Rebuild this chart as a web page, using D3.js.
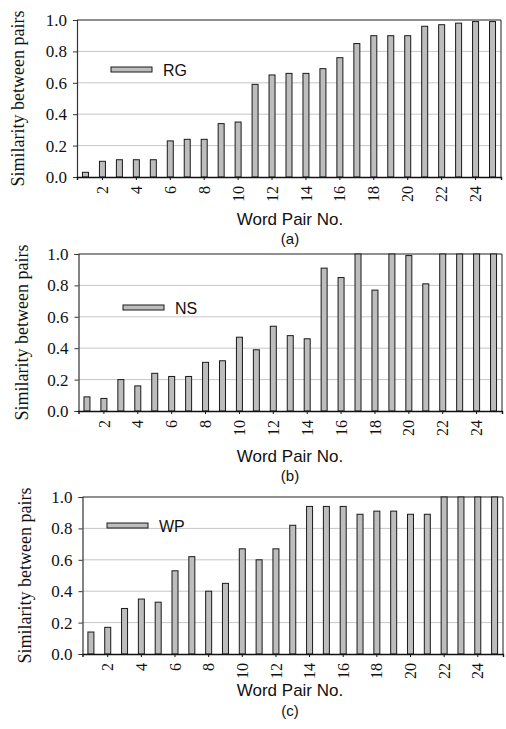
<!DOCTYPE html>
<html><head><meta charset="utf-8">
<script src="https://cdn.jsdelivr.net/npm/d3@7"></script>
<style>
html,body{margin:0;padding:0;background:#fff;}
svg{display:block;}
</style></head>
<body>
<svg id="c" width="506" height="729"></svg>
<script>
// ---- data ----
const pairs = d3.range(1, 26);
const rgValues = [0.03,0.10,0.11,0.11,0.11,0.23,0.24,0.24,0.34,0.35,0.59,0.65,0.66,0.66,0.69,0.76,0.85,0.90,0.90,0.90,0.96,0.97,0.98,0.99,0.99];
const nsValues = [0.09,0.08,0.20,0.16,0.24,0.22,0.22,0.31,0.32,0.47,0.39,0.54,0.48,0.46,0.91,0.85,1.00,0.77,1.00,0.99,0.81,1.00,1.00,1.00,1.00];
const wpValues = [0.14,0.17,0.29,0.35,0.33,0.53,0.62,0.40,0.45,0.67,0.60,0.67,0.82,0.94,0.94,0.94,0.89,0.91,0.91,0.89,0.89,1.00,1.00,1.00,1.00];
const yTicks = [0, 0.2, 0.4, 0.6, 0.8, 1.0];
const xTickLabels = [2,4,6,8,10,12,14,16,18,20,22,24];
const seriesNames = ["RG", "NS", "WP"];
const panelLabels = ["(a)", "(b)", "(c)"];
const xTitle = "Word Pair No.";
const yTitle = "Similarity between pairs";

// ---- layout ----
const SERIF = '"Liberation Serif", "Times New Roman", Times, serif';
const SANS = '"Liberation Sans", Arial, Helvetica, sans-serif';
const panels = [
  {values: rgValues, left: 77, right: 501, top: 20, bottom: 177, legX: 111, legY: 67, yLabX: 24, xTitleY: 225, subY: 244},
  {values: nsValues, left: 78.5, right: 502, top: 254, bottom: 411, legX: 123, legY: 305, yLabX: 28, xTitleY: 462, subY: 481},
  {values: wpValues, left: 82.5, right: 503, top: 497, bottom: 654, legX: 107, legY: 523, yLabX: 31, xTitleY: 696, subY: 716}
];

const svg = d3.select("#c");

panels.forEach((p, i) => {
  const g = svg.append("g");
  const x = d3.scaleBand().domain(pairs).range([p.left, p.right]).paddingInner(0).paddingOuter(0);
  const y = d3.scaleLinear().domain([0, 1]).range([p.bottom, p.top]);
  const bw = 6;

  // gridlines
  g.append("g").selectAll("line").data(yTicks.filter(t => t > 0 && t < 1)).join("line")
    .attr("x1", p.left).attr("x2", p.right)
    .attr("y1", d => y(d)).attr("y2", d => y(d))
    .attr("stroke", "#c6c6c6").attr("stroke-width", 1);

  // frame top & right
  g.append("line").attr("x1", p.left).attr("x2", p.right).attr("y1", y(1)).attr("y2", y(1))
    .attr("stroke", "#222").attr("stroke-width", 1.2);
  g.append("line").attr("x1", p.right).attr("x2", p.right).attr("y1", y(1)).attr("y2", y(0))
    .attr("stroke", "#444").attr("stroke-width", 1.2);

  // bars
  g.append("g").selectAll("rect").data(p.values).join("rect")
    .attr("x", (d, k) => x(pairs[k]) + x.bandwidth() / 2 - bw / 2)
    .attr("y", d => y(d))
    .attr("width", bw)
    .attr("height", d => y(0) - y(d))
    .attr("fill", "#bdbdbd")
    .attr("stroke", "#1a1a1a")
    .attr("stroke-width", 1);

  // y axis
  const ya = d3.axisLeft(y).tickValues(yTicks).tickFormat(d3.format(".1f")).tickSizeOuter(0).tickSize(4).tickPadding(6);
  const yg = g.append("g").attr("transform", `translate(${p.left},0)`).call(ya)
    .attr("font-family", SERIF).attr("font-size", 17);
  yg.select(".domain").attr("stroke", "#333").attr("stroke-width", 1.2);
  yg.selectAll(".tick line").attr("stroke", "#333");
  yg.selectAll("text").style("font-family", SERIF).style("font-size", "17px").attr("fill", "#111");

  // x axis
  const xa = d3.axisBottom(x).tickValues(xTickLabels).tickSizeOuter(0).tickSize(3).tickPadding(6);
  const xg = g.append("g").attr("transform", `translate(0,${p.bottom})`).call(xa)
    .attr("font-family", SERIF).attr("font-size", 16);
  xg.select(".domain").attr("stroke", "#111").attr("stroke-width", 1.4);
  xg.selectAll(".tick line").attr("stroke", "#111");
  xg.selectAll("text")
    .style("font-family", SERIF).style("font-size", "16px").attr("fill", "#111")
    .attr("transform", "rotate(-90)")
    .attr("text-anchor", "end")
    .attr("dy", "0.35em")
    .attr("x", -9).attr("y", 0);

  // y title
  g.append("text")
    .attr("transform", `translate(${p.yLabX},${(p.top + p.bottom) / 2}) rotate(-90)`)
    .attr("text-anchor", "middle")
    .style("font-family", SERIF).style("font-size", "18px").attr("fill", "#111")
    .text(yTitle);

  // x title
  g.append("text").attr("x", 290).attr("y", p.xTitleY).attr("text-anchor", "middle")
    .style("font-family", SANS).style("font-size", "17px").attr("fill", "#111")
    .text(xTitle);
  g.append("text").attr("x", 290).attr("y", p.subY).attr("text-anchor", "middle")
    .style("font-family", SANS).style("font-size", "15px").attr("fill", "#111")
    .text(panelLabels[i]);

  // legend
  g.append("rect").attr("x", p.legX).attr("y", p.legY).attr("width", 41).attr("height", 5)
    .attr("fill", "#bdbdbd").attr("stroke", "#1a1a1a").attr("stroke-width", 1);
  g.append("text").attr("x", p.legX + 52).attr("y", p.legY + 9)
    .style("font-family", SANS).style("font-size", "16px").attr("fill", "#111")
    .text(seriesNames[i]);
});
</script>
</body></html>
